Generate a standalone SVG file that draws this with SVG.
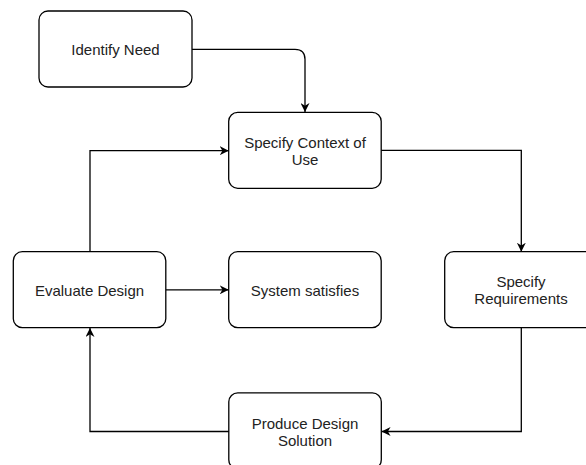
<svg xmlns="http://www.w3.org/2000/svg" width="586" height="465" viewBox="0 0 586 465">
<style>
.box{fill:#fff;stroke:#000;stroke-width:1.3}
.lbl{font-family:"Liberation Sans",Arial,sans-serif;font-size:15px;fill:#222;text-anchor:middle}
.edge{fill:none;stroke:#000;stroke-width:1.3}
</style>
<defs>
<marker id="arr" viewBox="0 0 10 10" refX="10" refY="5" markerWidth="9" markerHeight="9" markerUnits="userSpaceOnUse" orient="auto">
<path d="M0,0 L10,5 L0,10 L3,5 z" fill="#000"/>
</marker>
</defs>
<rect width="586" height="465" fill="#fff"/>
<g id="connectors">
<path class="edge" d="M192,49.3 H295 Q305,49.3 305,59.3 V112" marker-end="url(#arr)"/>
<path class="edge" d="M381,150.3 H521.3 V251.7" marker-end="url(#arr)"/>
<path class="edge" d="M521.3,328 V431.5 H381.6" marker-end="url(#arr)"/>
<path class="edge" d="M229,431.5 H90 V328" marker-end="url(#arr)"/>
<path class="edge" d="M90,252 V150.7 H228.7" marker-end="url(#arr)"/>
<path class="edge" d="M166,289.8 H228.7" marker-end="url(#arr)"/>
</g>
<g id="identify-need">
<rect class="box" x="39" y="11" width="153" height="76" rx="9"/>
<text class="lbl" x="115.5" y="54.5">Identify Need</text>
</g>
<g id="specify-context">
<rect class="box" x="228.7" y="112.3" width="152.5" height="76" rx="9"/>
<text class="lbl" x="305" y="147.5">Specify Context of</text>
<text class="lbl" x="305" y="164.5">Use</text>
</g>
<g id="evaluate-design">
<rect class="box" x="13.3" y="251.7" width="152.5" height="76" rx="9"/>
<text class="lbl" x="89.5" y="295.5">Evaluate Design</text>
</g>
<g id="system-satisfies">
<rect class="box" x="228.7" y="251.7" width="152.5" height="76" rx="9"/>
<text class="lbl" x="305" y="295.5">System satisfies</text>
</g>
<g id="specify-requirements">
<rect class="box" x="444.7" y="251.7" width="152.5" height="76" rx="9"/>
<text class="lbl" x="521" y="286.5">Specify</text>
<text class="lbl" x="521" y="303.8">Requirements</text>
</g>
<g id="produce-design">
<rect class="box" x="228.8" y="392.8" width="152.5" height="76" rx="9"/>
<text class="lbl" x="305" y="428.5">Produce Design</text>
<text class="lbl" x="305" y="446">Solution</text>
</g>
</svg>
